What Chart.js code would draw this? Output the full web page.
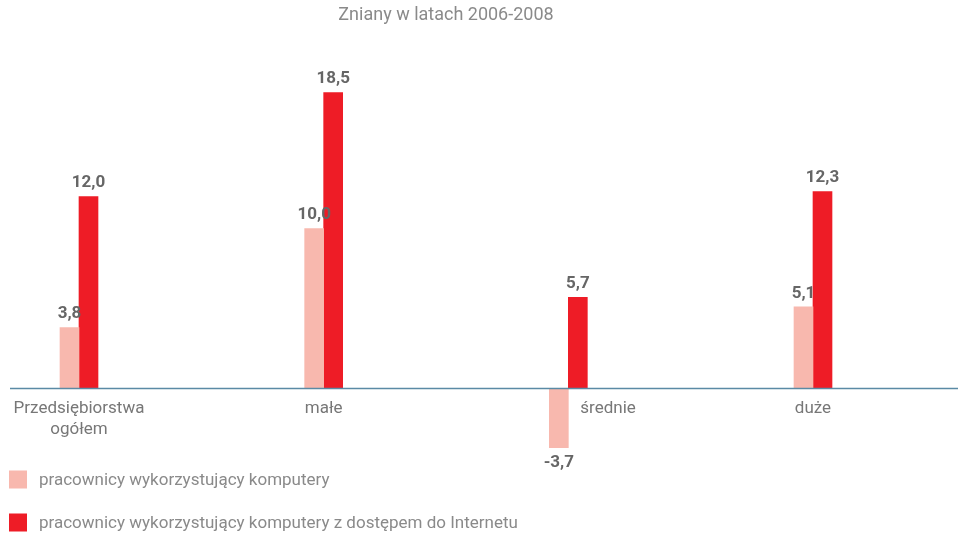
<!DOCTYPE html>
<html>
<head>
<meta charset="utf-8">
<script src="https://cdn.jsdelivr.net/npm/chart.js@4/dist/chart.umd.min.js"></script>
<style>
  html, body { margin: 0; padding: 0; background: #ffffff; }
  #wrap { width: 958px; height: 534px; position: relative; }
</style>
</head>
<body>
<div id="wrap"><canvas id="c"></canvas></div>
<script>
// Company size groups and the change (percentage points) in 2006-2008
const categories = [["Przedsiębiorstwa", "ogółem"], "małe", "średnie", "duże"];
const seriesNames = [
  "pracownicy wykorzystujący komputery",
  "pracownicy wykorzystujący komputery z dostępem do Internetu"
];
const computers = [3.8, 10.0, -3.7, 5.1];
const internet = [12.0, 18.5, 5.7, 12.3];
const chartTitle = "Zniany w latach 2006-2008";

const PINK = "#f8b8ae";
const RED = "#ee1c26";
const AXIS = "#5a8aa5";
const FONT = "Roboto, 'Open Sans', sans-serif";

const fmt = v => v.toFixed(1).replace(".", ",");

// zero line, value labels, category labels and the stacked legend
const decorations = {
  id: "decorations",
  afterDatasetsDraw(chart) {
    const ctx = chart.ctx;
    const x = chart.scales.x, y = chart.scales.y;
    const y0 = y.getPixelForValue(0);
    ctx.save();

    // zero line across the whole width
    ctx.strokeStyle = AXIS;
    ctx.lineWidth = 1.5;
    ctx.beginPath();
    ctx.moveTo(10, y0);
    ctx.lineTo(chart.width, y0);
    ctx.stroke();

    // value labels
    ctx.font = "bold 17px " + FONT;
    ctx.fillStyle = "#666666";
    ctx.textAlign = "center";
    chart.data.datasets.forEach((ds, di) => {
      const meta = chart.getDatasetMeta(di);
      meta.data.forEach((bar, i) => {
        const v = ds.data[i];
        if (v >= 0) {
          ctx.textBaseline = "bottom";
          ctx.fillText(fmt(v), bar.x, bar.y - 5);
        } else {
          ctx.textBaseline = "top";
          ctx.fillText(fmt(v), bar.x, bar.y + 7);
        }
      });
    });

    // category labels below the zero line
    ctx.font = "17px " + FONT;
    ctx.fillStyle = "#777777";
    ctx.textBaseline = "middle";
    categories.forEach((lab, i) => {
      const lines = Array.isArray(lab) ? lab : [lab];
      let cx = x.getPixelForValue(i);
      ctx.textAlign = "center";
      if (computers[i] < 0) {
        // keep clear of a bar hanging below the line
        ctx.textAlign = "left";
        cx += 12;
      }
      lines.forEach((t, k) => ctx.fillText(t, cx, y0 + 20 + k * 21));
    });

    // legend, one entry per row
    const colors = [PINK, RED];
    ctx.textAlign = "left";
    ctx.font = "17px " + FONT;
    seriesNames.forEach((name, k) => {
      const cy = chart.chartArea.bottom + 11 + k * 43;
      ctx.fillStyle = colors[k];
      ctx.fillRect(9, cy - 9, 18, 18);
      ctx.fillStyle = "#8a8a8a";
      ctx.fillText(name, 39, cy + 1);
    });

    ctx.restore();
  }
};

new Chart(document.getElementById("c"), {
  type: "bar",
  data: {
    labels: categories,
    datasets: [
      { label: seriesNames[0], data: computers, backgroundColor: PINK },
      { label: seriesNames[1], data: internet, backgroundColor: RED }
    ]
  },
  options: {
    responsive: true,
    maintainAspectRatio: false,
    animation: false,
    events: [],
    layout: { padding: { left: 79, right: 145, top: 0, bottom: 65.5 } },
    datasets: { bar: { barThickness: 19, clip: false } },
    scales: {
      x: { type: "category", offset: false, display: false },
      y: { min: -5, max: 20, display: false }
    },
    plugins: {
      legend: { display: false },
      tooltip: { enabled: false },
      title: {
        display: true,
        text: chartTitle,
        color: "#8a8a8a",
        font: { family: FONT, size: 18, weight: "normal", lineHeight: 1.2 },
        padding: { top: 5, bottom: 41.9 }
      }
    }
  },
  plugins: [decorations]
});
</script>
</body>
</html>
